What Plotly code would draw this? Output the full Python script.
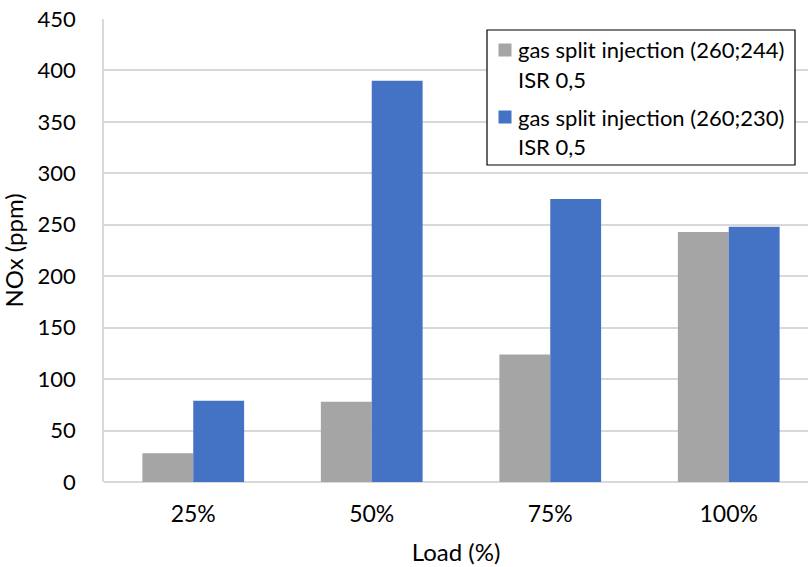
import plotly.graph_objects as go

# NOx emissions at each engine load for two gas split-injection settings
loads = ["25%", "50%", "75%", "100%"]
nox_260_244 = [28, 78, 124, 243]
nox_260_230 = [79, 390, 275, 248]

series_names = [
    "gas split injection (260;244)<br>ISR 0,5",
    "gas split injection (260;230)<br>ISR 0,5",
]
series_colors = ["#A5A5A5", "#4472C4"]

y_ticks = [0, 50, 100, 150, 200, 250, 300, 350, 400, 450]
y_title = "NOx (ppm)"
x_title = "Load (%)"

FONT = "Lato"
GRID = "#D9D9D9"

W, H = 808, 567
ML, MR, MT, MB = 104, 0, 19, 85
PW, PH = W - ML - MR, H - MT - MB


def px_x(p):
    """Horizontal pixel position -> paper fraction."""
    return (p - ML) / PW


def px_y(p):
    """Vertical pixel position (from top) -> paper fraction."""
    return (H - MB - p) / PH


fig = go.Figure()
for name, vals, color in zip(series_names, [nox_260_244, nox_260_230], series_colors):
    fig.add_trace(go.Bar(
        x=loads, y=vals, name=name,
        marker=dict(color=color, line=dict(width=0)),
    ))

# Boxed legend: frame, colour swatches and two-line labels
shapes = [dict(
    type="rect", xref="paper", yref="paper",
    x0=px_x(487), x1=px_x(795), y0=px_y(165), y1=px_y(30),
    line=dict(color="#000000", width=1.2), fillcolor="white", layer="above",
)]
annotations = []
item_top = [50, 117]
for name, color, cy in zip(series_names, series_colors, item_top):
    shapes.append(dict(
        type="rect", xref="paper", yref="paper",
        x0=px_x(498.5), x1=px_x(511.5), y0=px_y(cy + 6.5), y1=px_y(cy - 6.5),
        line=dict(width=0), fillcolor=color, layer="above",
    ))
    for k, line in enumerate(name.split("<br>")):
        annotations.append(dict(
            xref="paper", yref="paper", x=px_x(516), y=px_y(cy + 29.5 * k),
            xanchor="left", yanchor="middle", showarrow=False, text=line,
            font=dict(family=FONT, size=22, color="#000000"),
        ))

# Vertical axis title, rotated
annotations.append(dict(
    xref="paper", yref="paper", x=px_x(13), y=0.5,
    xanchor="center", yanchor="middle", showarrow=False, textangle=-90,
    text=y_title, font=dict(family=FONT, size=24, color="#000000"),
))

fig.update_layout(
    width=W, height=H,
    margin=dict(l=ML, r=MR, t=MT, b=MB),
    paper_bgcolor="white", plot_bgcolor="white",
    barmode="group", bargap=0.43, bargroupgap=0,
    font=dict(family=FONT, size=23, color="#000000"),
    showlegend=False,
    shapes=shapes, annotations=annotations,
    xaxis=dict(
        range=[-0.5, 3.444], showgrid=False, showline=False,
        ticks="", ticklabelstandoff=16, tickfont=dict(size=23),
        title=dict(text=x_title, font=dict(size=24), standoff=18),
    ),
    yaxis=dict(
        range=[0, 450], tickvals=y_ticks, showgrid=True, gridcolor=GRID,
        gridwidth=1.5, zeroline=True, zerolinecolor=GRID, zerolinewidth=1.5,
        showline=True, linecolor=GRID, linewidth=1.5,
        ticks="", ticklabelstandoff=22, tickfont=dict(size=22),
    ),
)

fig.write_html("out.html")
